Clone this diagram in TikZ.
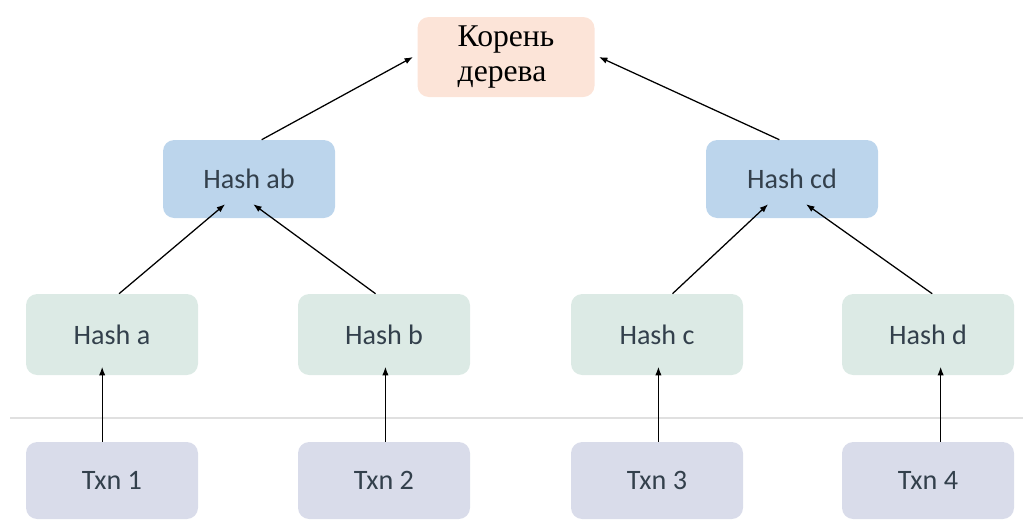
\documentclass[tikz,border=0pt]{standalone}
\usepackage{fontspec}
\setmainfont{Carlito}
\newfontfamily\rootfont{Liberation Serif}
\usetikzlibrary{arrows.meta,calc,positioning}
\definecolor{rootfill}{HTML}{FCE4D8}
\definecolor{midfill}{HTML}{BCD5EC}
\definecolor{leaffill}{HTML}{DCEAE5}
\definecolor{txnfill}{HTML}{D9DCEA}
\definecolor{boxtext}{HTML}{33404C}

\begin{document}
\begin{tikzpicture}[
  x=0.025cm, y=-0.025cm,
  box/.style={rounded corners=8, minimum width=172*0.025cm, minimum height=78*0.025cm,
    inner sep=0pt, text=boxtext, font=\fontsize{20}{24}\selectfont},
  root/.style={box, fill=rootfill, minimum width=177*0.025cm, minimum height=80*0.025cm,
    text=black, align=left, font=\rootfont\fontsize{22.5}{25}\selectfont},
  mid/.style={box, fill=midfill},
  leaf/.style={box, fill=leaffill, minimum height=81*0.025cm},
  txn/.style={box, fill=txnfill, minimum height=77*0.025cm},
  arr/.style={-{Latex[length=6pt,width=4.5pt]}, line width=0.9pt}
]
\useasboundingbox (0,0) rectangle (1023,520);
% separator between transactions and hashes
\draw[line width=1.4pt, black!12] (10,418) -- (1023,418);

\node[root] (root) at (506,57) {Корень\\дерева};
\node[mid] (hab) at (249,179) {Hash ab};
\node[mid] (hcd) at (792,179) {Hash cd};
\node[leaf] (ha) at (112,334.5) {Hash a};
\node[leaf] (hb) at (384,334.5) {Hash b};
\node[leaf] (hc) at (657,334.5) {Hash c};
\node[leaf] (hd) at (928,334.5) {Hash d};
\node[txn] (t1) at (112,480.5) {Txn 1};
\node[txn] (t2) at (384,480.5) {Txn 2};
\node[txn] (t3) at (657,480.5) {Txn 3};
\node[txn] (t4) at (928,480.5) {Txn 4};

\draw[arr] ([xshift=9]hab.north) -- ([xshift=-3]root.west);
\draw[arr] ([xshift=-9]hcd.north) -- ([xshift=3]root.east);

\draw[arr] ([xshift=5]ha.north) -- ([xshift=-17,yshift=10]hab.south);
\draw[arr] ([xshift=-6]hb.north) -- ([xshift=3,yshift=10]hab.south);
\draw[arr] ([xshift=11]hc.north) -- ([xshift=-17,yshift=10]hcd.south);
\draw[arr] ([xshift=3]hd.north) -- ([xshift=10,yshift=10]hcd.south);

\draw[arr] ([xshift=-7]t1.north) -- ([xshift=-7,yshift=6]ha.south);
\draw[arr] ([xshift=1]t2.north) -- ([xshift=1,yshift=6]hb.south);
\draw[arr] ([xshift=1]t3.north) -- ([xshift=1,yshift=6]hc.south);
\draw[arr] ([xshift=9]t4.north) -- ([xshift=9,yshift=6]hd.south);
\end{tikzpicture}
\end{document}
